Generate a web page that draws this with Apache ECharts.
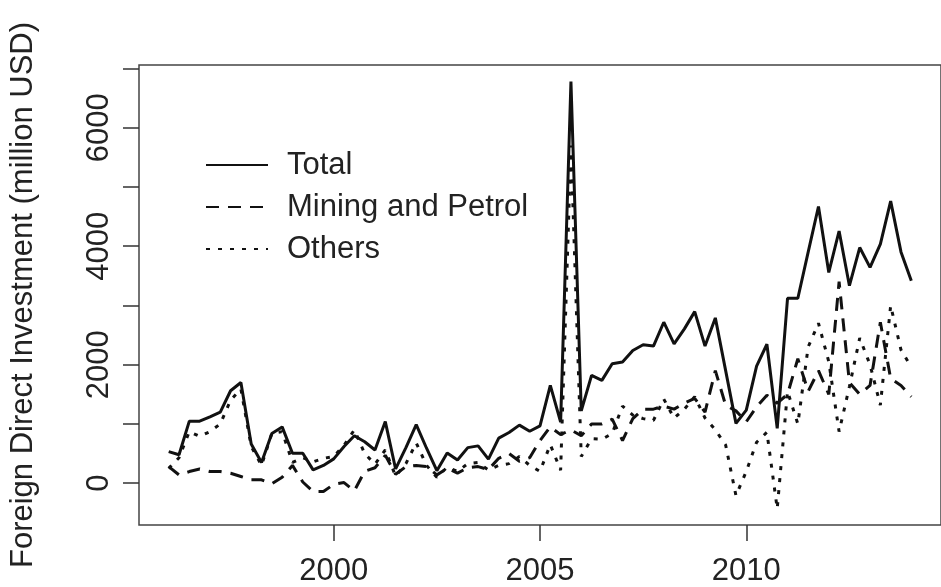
<!DOCTYPE html>
<html>
<head>
<meta charset="utf-8">
<script src="https://cdn.jsdelivr.net/npm/echarts@6/dist/echarts.min.js"></script>
</head>
<body style="margin:0;background:#fff;">
<div id="main" style="width:941px;height:587px;"></div>
<script>
// quarterly series, 1996 Q1 .. 2014 Q1
var quarters = [];
for (var yr = 1996; yr <= 2014; yr++) {
  for (var q = 1; q <= 4; q++) {
    if (yr === 2014 && q > 1) break;
    quarters.push(yr + ' Q' + q);
  }
}

var total = [533, 480, 1047, 1047, 1120, 1200, 1560, 1700, 660, 350,
  840, 950, 504, 504, 224, 300, 410, 620, 800, 700,
  560, 1040, 240, 600, 990, 590, 210, 510, 390, 600,
  630, 405, 760, 855, 980, 877, 966, 1650, 1030, 6780,
  1220, 1820, 1736, 2017, 2045, 2240, 2336, 2314, 2717, 2353,
  2605, 2896, 2314, 2790, 1900, 1010, 1232, 1975, 2345, 924,
  3121, 3121, 3900, 4670, 3558, 4257, 3333, 3978, 3642, 4034,
  4761, 3904, 3417];

var mining = [280, 140, 196, 240, 196, 196, 168, 112, 56, 56,
  -10, 100, 300, 20, -140, -140, -20, 10, -130, 200,
  260, 470, 150, 280, 300, 280, 140, 250, 170, 260,
  280, 230, 420, 500, 370, 430, 720, 950, 820, 900,
  800, 1000, 1000, 1080, 720, 1090, 1250, 1250, 1300, 1250,
  1350, 1430, 1200, 1900, 1316, 1220, 1036, 1290, 1484, 1350,
  1500, 2100, 1550, 1900, 1500, 3400, 1700, 1500, 1650, 2717,
  1765, 1650, 1457];

var others = [250, 430, 870, 790, 870, 1000, 1400, 1590, 620, 300,
  840, 870, 350, 430, 360, 420, 450, 640, 900, 500,
  320, 560, 120, 330, 680, 300, 100, 270, 200, 330,
  350, 220, 300, 330, 450, 300, 200, 650, 220, 5700,
  450, 750, 740, 840, 1300, 1150, 1090, 1060, 1420, 1100,
  1250, 1460, 1100, 900, 644, -210, 200, 690, 860, -430,
  1550, 1000, 2300, 2700, 2050, 870, 1630, 2450, 2000, 1317,
  2997, 2250, 1960];

var xTicks = [2000, 2005, 2010];
var yTicks = [0, 1000, 2000, 3000, 4000, 5000, 6000, 7000];
var yLabels = [0, 2000, 4000, 6000];

function toYear(label) {
  var p = label.split(' Q');
  return +p[0] + (+p[1] - 1) / 4;
}
function pairs(values) {
  return quarters.map(function (q, i) { return [toYear(q), values[i]]; });
}
function plain(v) { return String(v); }

var ink = '#111';
var font = 'Liberation Sans, Arial, sans-serif';

var myChart = echarts.init(document.getElementById('main'));
var option = {
  backgroundColor: '#fff',
  animation: false,
  grid: {
    left: 139, top: 65, right: -9, bottom: 60,
    show: true, borderColor: '#444', borderWidth: 1.5
  },
  legend: {
    orient: 'vertical',
    left: 200,
    top: 142,
    itemWidth: 62,
    itemHeight: 20,
    itemGap: 6,
    itemStyle: { opacity: 0 },
    textStyle: { fontFamily: font, fontSize: 31, color: '#222', lineHeight: 36, padding: [0, 0, 0, 14] },
    data: ['Total', 'Mining and Petrol', 'Others']
  },
  xAxis: {
    type: 'value',
    min: 1995.28,
    max: 2014.72,
    axisLine: { show: false, onZero: false },
    splitLine: { show: false },
    axisTick: { show: true, length: 16, lineStyle: { color: '#333', width: 1.5 }, customValues: xTicks },
    axisLabel: { fontFamily: font, fontSize: 31, color: '#222', margin: 31, formatter: plain, customValues: xTicks }
  },
  yAxis: {
    type: 'value',
    min: -706,
    max: 7059,
    name: 'Foreign Direct Investment (million USD)',
    nameLocation: 'middle',
    nameGap: 100,
    nameTextStyle: { fontFamily: font, fontSize: 31, color: '#222' },
    axisLine: { show: false, onZero: false },
    splitLine: { show: false },
    axisTick: { show: true, length: 16, lineStyle: { color: '#333', width: 1.5 }, customValues: yTicks },
    axisLabel: { fontFamily: font, fontSize: 31, color: '#222', margin: 24, rotate: 90, formatter: plain, customValues: yLabels }
  },
  series: [
    {
      name: 'Total', type: 'line', symbol: 'none',
      lineStyle: { color: ink, width: 3, type: 'solid' },
      itemStyle: { color: ink },
      data: pairs(total)
    },
    {
      name: 'Mining and Petrol', type: 'line', symbol: 'none',
      lineStyle: { color: ink, width: 3, type: [13, 9] },
      itemStyle: { color: ink },
      data: pairs(mining)
    },
    {
      name: 'Others', type: 'line', symbol: 'none',
      lineStyle: { color: ink, width: 3, type: [4, 8] },
      itemStyle: { color: ink },
      data: pairs(others)
    }
  ]
};
myChart.setOption(option);
</script>
</body>
</html>
